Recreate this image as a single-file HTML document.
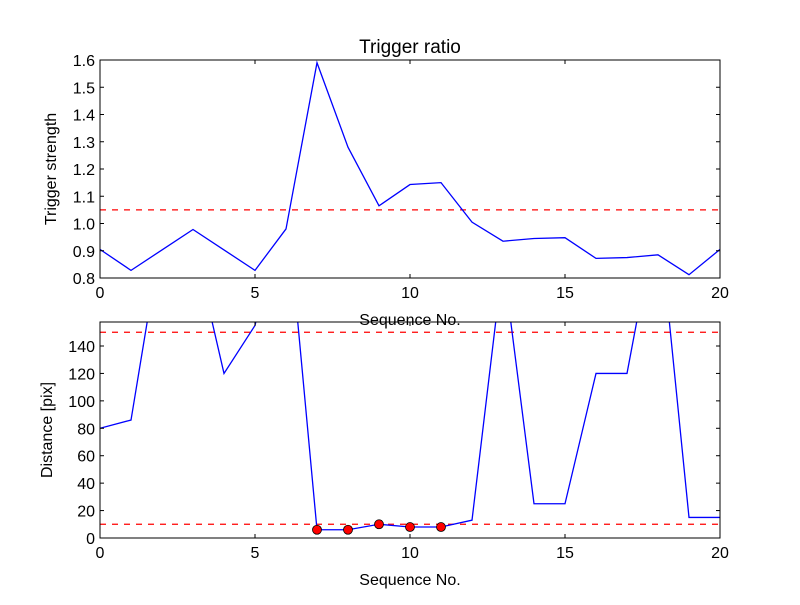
<!DOCTYPE html>
<html><head><meta charset="utf-8"><style>
body{margin:0;background:#fff;width:800px;height:600px;overflow:hidden}
svg{font-family:"Liberation Sans","DejaVu Sans",sans-serif}
</style></head><body>
<svg id="c" width="800" height="600"></svg>
<script>
const seq = [0,1,2,3,4,5,6,7,8,9,10,11,12,13,14,15,16,17,18,19,20];
const ratioValues = [0.905,0.828,0.903,0.978,0.903,0.828,0.98,1.59,1.28,1.065,1.143,1.15,1.005,0.935,0.945,0.948,0.872,0.875,0.885,0.812,0.905];
const ratioThreshold = 1.05;
const distValues = [80,86,223,218,120,120,155,250,6,6,10,8,8,13,202,25,25,120,120,240,15,15];
const distance = [80,86,223,218,120,155,250,6,6,10,8,8,13,202,25,25,120,120,240,15,15];
const flaggedIdx = [7,8,9,10,11];
const distThresholds = [10,150];
const xTicks = [0,5,10,15,20];
const yTicksTop = [0.8,0.9,1.0,1.1,1.2,1.3,1.4,1.5,1.6];
const yTicksBot = [0,20,40,60,80,100,120,140];

const NS="http://www.w3.org/2000/svg", svg=document.getElementById('c');
function el(t,a,p){const e=document.createElementNS(NS,t);for(const k in a)e.setAttribute(k,a[k]);(p||svg).appendChild(e);return e;}
function panel(cfg){
  const {x0,x1,y0,y1,ymin,ymax}=cfg;
  const sx=v=>x0+(v-0)/(20-0)*(x1-x0);
  const sy=v=>y1-(v-ymin)/(ymax-ymin)*(y1-y0);
  const g=el('g',{});
  
  
  const cid='clip'+cfg.name;
  const cp=el('clipPath',{id:cid},g);el('rect',{x:x0,y:y0,width:x1-x0,height:y1-y0},cp);
  const pg=el('g',{'clip-path':'url(#'+cid+')'},g);
  cfg.thr.forEach(t=>{const l=el('line',{x1:x0,x2:x1,y1:sy(t),y2:sy(t),stroke:'#f00','stroke-width':1.2,'stroke-dasharray':'6,6'},pg);
    
    });
  const pts=cfg.vals.map((v,i)=>sx(seq[i])+','+sy(v)).join(' ');
  const pl=el('polyline',{points:pts,fill:'none',stroke:'#00f','stroke-width':1.3},pg);
  
  
  (cfg.dots||[]).forEach(i=>{const c=el('circle',{cx:sx(seq[i]),cy:sy(cfg.vals[i]),r:4.5,fill:'#f00',stroke:'#000','stroke-width':0.8},g);
    
    });
  el('rect',{x:x0,y:y0,width:x1-x0,height:y1-y0,fill:'none',stroke:'#000','stroke-width':1},g);
  xTicks.forEach(t=>{const x=sx(t);
    el('line',{x1:x,x2:x,y1:y1,y2:y1-4,stroke:'#000'},g);el('line',{x1:x,x2:x,y1:y0,y2:y0+4,stroke:'#000'},g);
    const tx=el('text',{x:x,y:y1+20,'text-anchor':'middle','font-size':16},g);tx.textContent=t;
    
    });
  cfg.yt.forEach(t=>{const y=sy(t);
    el('line',{x1:x0,x2:x0+4,y1:y,y2:y,stroke:'#000'},g);el('line',{x1:x1,x2:x1-4,y1:y,y2:y,stroke:'#000'},g);
    const tx=el('text',{x:x0-5,y:y+6,'text-anchor':'end','font-size':16},g);tx.textContent=cfg.fmt(t);
    
    });
  const xl=el('text',{x:(x0+x1)/2,y:y1+47,'text-anchor':'middle','font-size':16},g);xl.textContent='Sequence No.';
  
  
  const yl=el('text',{x:0,y:0,'text-anchor':'middle','font-size':16,transform:`translate(${cfg.ylx},${(y0+y1)/2}) rotate(-90)`},g);yl.textContent=cfg.ylabel;
  
  
  return g;
}
panel({name:'trigger-panel',x0:100,x1:720,y0:60,y1:278,ymin:0.8,ymax:1.6,vals:ratioValues,thr:[ratioThreshold],yt:yTicksTop,fmt:v=>v.toFixed(1),ylabel:'Trigger strength',ylx:56});
panel({name:'distance-panel',x0:100,x1:720,y0:322,y1:538,ymin:0,ymax:157.5,vals:distance,thr:distThresholds,yt:yTicksBot,fmt:v=>v,dots:flaggedIdx,ylabel:'Distance [pix]',ylx:52});
const t=el('text',{x:410,y:53,'text-anchor':'middle','font-size':19});t.textContent='Trigger ratio';


</script>
</body></html>
